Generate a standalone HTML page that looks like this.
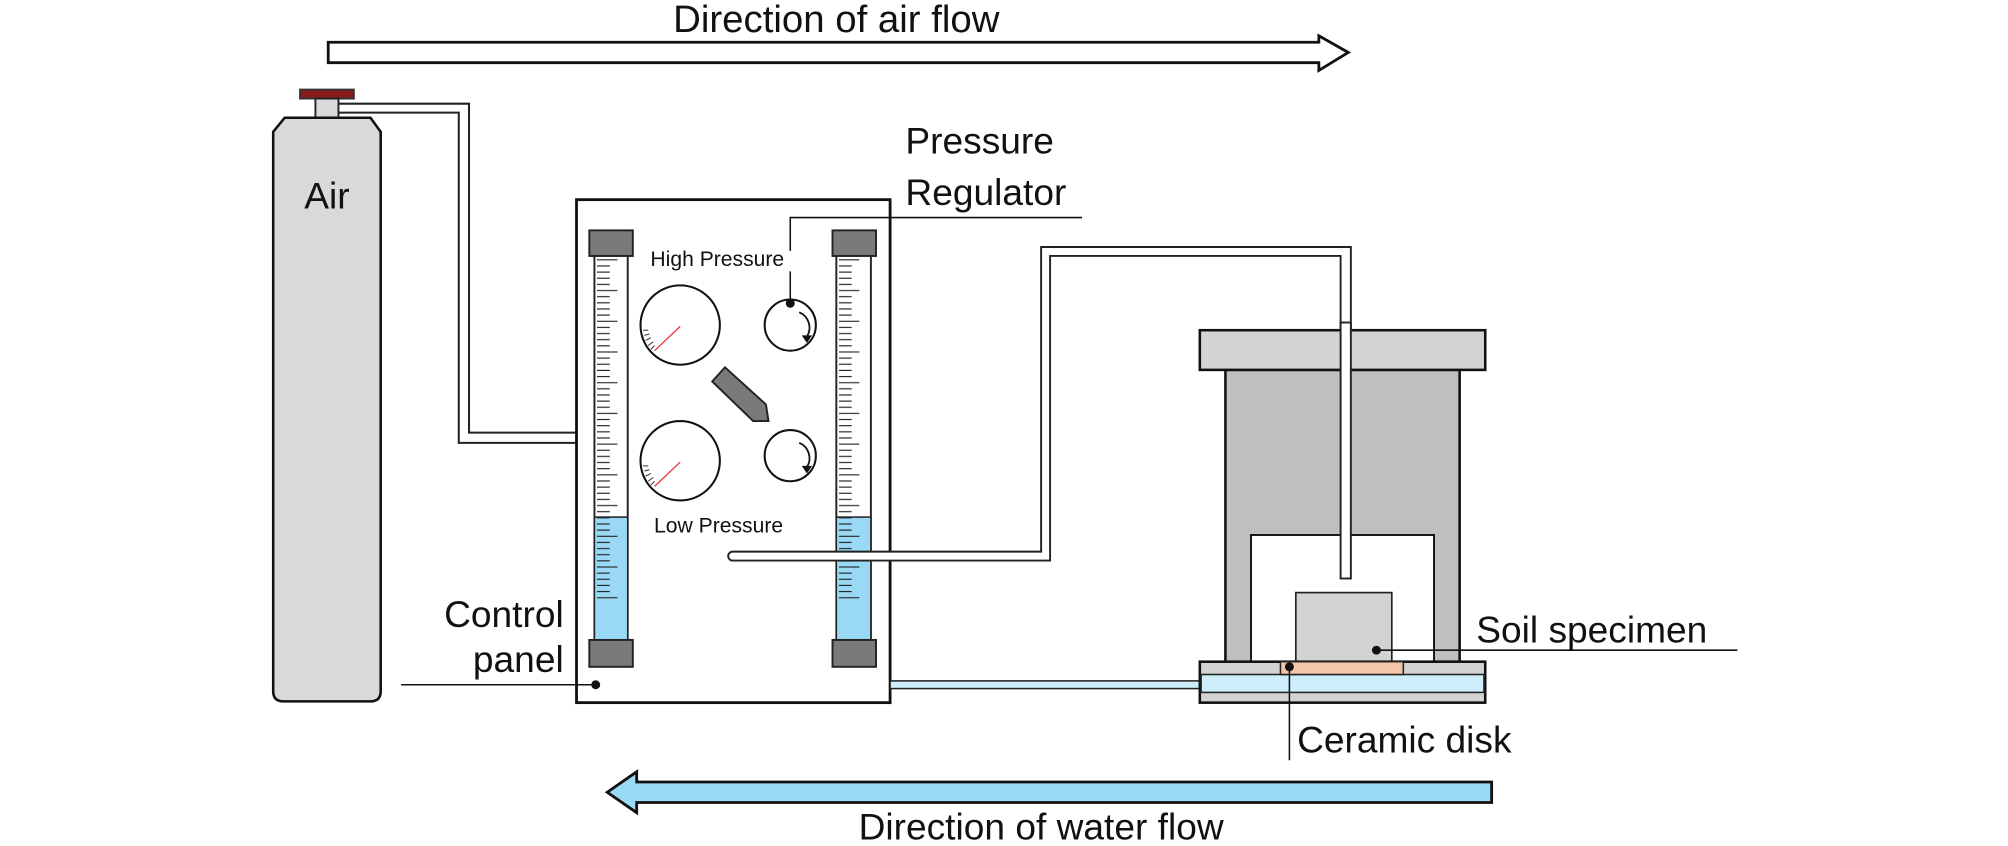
<!DOCTYPE html>
<html><head><meta charset="utf-8"><style>
html,body{margin:0;padding:0;background:#fff;}
svg{display:block;}
text{font-family:"Liberation Sans",Arial,sans-serif;fill:#111;}
</style></head><body>
<svg width="2008" height="846" viewBox="0 0 1568 661" xmlns="http://www.w3.org/2000/svg">
<defs>
<pattern id="ticksL" x="466" y="202" width="20" height="24" patternUnits="userSpaceOnUse">
<line x1="0" y1="1" x2="16" y2="1" stroke="#222" stroke-width="0.9"/>
<line x1="0" y1="5.8" x2="10" y2="5.8" stroke="#222" stroke-width="0.9"/>
<line x1="0" y1="10.6" x2="10" y2="10.6" stroke="#222" stroke-width="0.9"/>
<line x1="0" y1="15.4" x2="10" y2="15.4" stroke="#222" stroke-width="0.9"/>
<line x1="0" y1="20.2" x2="10" y2="20.2" stroke="#222" stroke-width="0.9"/>
</pattern>
<pattern id="ticksR" x="655" y="202" width="20" height="24" patternUnits="userSpaceOnUse">
<line x1="0" y1="1" x2="16" y2="1" stroke="#222" stroke-width="0.9"/>
<line x1="0" y1="5.8" x2="10" y2="5.8" stroke="#222" stroke-width="0.9"/>
<line x1="0" y1="10.6" x2="10" y2="10.6" stroke="#222" stroke-width="0.9"/>
<line x1="0" y1="15.4" x2="10" y2="15.4" stroke="#222" stroke-width="0.9"/>
<line x1="0" y1="20.2" x2="10" y2="20.2" stroke="#222" stroke-width="0.9"/>
</pattern>
</defs>

<!-- air flow arrow -->
<text x="653" y="25" font-size="30" text-anchor="middle">Direction of air flow</text>
<polygon points="256,33 1030,33 1030,28 1053,41 1030,55 1030,49 256,49" fill="#fff" stroke="#111" stroke-width="2.2"/>

<!-- air pipe -->
<polyline points="264,81 366,81 366,338 451,338" fill="none" stroke="#222" stroke-width="1.6"/>
<polyline points="264,88 358,88 358,346 451,346" fill="none" stroke="#222" stroke-width="1.6"/>

<!-- cylinder -->
<rect x="234" y="70" width="42" height="7" fill="#8b1a1a" stroke="#333" stroke-width="1.5"/>
<rect x="246" y="77" width="18" height="16" fill="#d9d9d9" stroke="#222" stroke-width="1.5"/>
<path d="M222,92 L289,92 L297,103 L297,540 Q297,548 289,548 L221,548 Q213,548 213,540 L213,103 Z" fill="#d9d9d9" stroke="#111" stroke-width="2"/>
<text x="255" y="163" font-size="29" text-anchor="middle">Air</text>

<!-- control panel -->
<rect x="450" y="156" width="245" height="393" fill="#fff" stroke="#111" stroke-width="2.2"/>
<!-- left tube -->
<rect x="464" y="199" width="26" height="301" fill="#fff" stroke="#222" stroke-width="1.5"/>
<rect x="464" y="404" width="26" height="96" fill="#9ad9f5" stroke="#222" stroke-width="1.2"/>
<rect x="466" y="202" width="18" height="266" fill="url(#ticksL)"/>
<rect x="460" y="180" width="34" height="20" fill="#7a7a7a" stroke="#222" stroke-width="1.5"/>
<rect x="460" y="500" width="34" height="21" fill="#7a7a7a" stroke="#222" stroke-width="1.5"/>
<!-- right tube -->
<rect x="653" y="199" width="27" height="301" fill="#fff" stroke="#222" stroke-width="1.5"/>
<rect x="653" y="404" width="27" height="96" fill="#9ad9f5" stroke="#222" stroke-width="1.2"/>
<rect x="655" y="202" width="18" height="266" fill="url(#ticksR)"/>
<rect x="650" y="180" width="34" height="20" fill="#7a7a7a" stroke="#222" stroke-width="1.5"/>
<rect x="650" y="500" width="34" height="21" fill="#7a7a7a" stroke="#222" stroke-width="1.5"/>

<text x="560" y="208" font-size="16.5" text-anchor="middle" fill="#1a1a2a">High Pressure</text>
<text x="561" y="416" font-size="16.5" text-anchor="middle" fill="#1a1a2a">Low Pressure</text>

<!-- gauges -->
<g stroke="#111" stroke-width="1.6" fill="#fff">
<circle cx="531" cy="254" r="31"/>
<circle cx="531" cy="360" r="31"/>
<circle cx="617" cy="254" r="20"/>
<circle cx="617" cy="356" r="20"/>
</g>
<line x1="511" y1="274" x2="531" y2="255" stroke="#e33" stroke-width="1"/>
<line x1="511" y1="380" x2="531" y2="361" stroke="#e33" stroke-width="1"/>
<g stroke="#333" stroke-width="0.8">
<line x1="502" y1="258" x2="506" y2="258"/><line x1="503" y1="262" x2="507" y2="261"/><line x1="504" y1="266" x2="508" y2="264"/><line x1="506" y1="270" x2="510" y2="267"/><line x1="508" y1="273" x2="511" y2="270"/>
<line x1="502" y1="364" x2="506" y2="364"/><line x1="503" y1="368" x2="507" y2="367"/><line x1="504" y1="372" x2="508" y2="370"/><line x1="506" y1="376" x2="510" y2="373"/><line x1="508" y1="379" x2="511" y2="376"/>
</g>
<path d="M624,244 A13,13 0 0 1 630,263" fill="none" stroke="#111" stroke-width="1.4"/>
<polygon points="626,262 634,262 630,268" fill="#111"/>
<path d="M624,346 A13,13 0 0 1 630,365" fill="none" stroke="#111" stroke-width="1.4"/>
<polygon points="626,364 634,364 630,370" fill="#111"/>
<!-- diamond pointer -->
<polygon points="566,287 598,316 600,329 588,329 556,298" fill="#7a7a7a" stroke="#222" stroke-width="1.5"/>

<!-- pressure regulator label -->
<text x="707" y="120" font-size="29">Pressure</text>
<text x="707" y="160" font-size="29">Regulator</text>
<polyline points="845,170 617,170 617,196" fill="none" stroke="#111" stroke-width="1.2"/>
<line x1="617" y1="212" x2="617" y2="237" stroke="#111" stroke-width="1.2"/>
<circle cx="617" cy="237" r="3.5" fill="#111"/>

<!-- water pipe to apparatus top -->
<path d="M572,431 L813,431 L813,193 L1055,193 L1055,452 L1047,452 L1047,200 L820,200 L820,438 L572,438 A3.5,3.5 0 0 1 572,431 Z" fill="#fff" stroke="#222" stroke-width="1.5"/>

<!-- control panel label -->
<text x="440" y="490" font-size="29" text-anchor="end">Control</text>
<text x="440" y="525" font-size="29" text-anchor="end">panel</text>
<line x1="313" y1="535" x2="465" y2="535" stroke="#111" stroke-width="1.2"/>
<circle cx="465" cy="535" r="3.5" fill="#111"/>

<!-- bottom pipe -->
<rect x="695" y="532" width="243" height="6" fill="#cdeefa" stroke="#222" stroke-width="1.2"/>

<!-- apparatus -->
<rect x="957" y="289" width="183" height="229" fill="#bfbfbf" stroke="#111" stroke-width="2"/>
<rect x="977" y="418" width="143" height="100" fill="#fff" stroke="#111" stroke-width="1.5"/>
<rect x="937" y="258" width="223" height="31" fill="#d3d3d3" stroke="#111" stroke-width="2"/>
<rect x="1047" y="252" width="8" height="200" fill="#fff" stroke="#222" stroke-width="1.5"/>
<rect x="1012" y="463" width="75" height="55" fill="#d3d3d3" stroke="#222" stroke-width="1.3"/>
<rect x="937" y="517" width="223" height="32" fill="#d3d3d3" stroke="#111" stroke-width="2"/>
<rect x="938" y="527" width="221" height="14" fill="#cdeefa" stroke="#222" stroke-width="1.2"/>
<rect x="1000" y="517" width="96" height="10" fill="#f5c6a8" stroke="#222" stroke-width="1.2"/>

<!-- soil specimen label -->
<text x="1153" y="502" font-size="29">Soil specimen</text>
<line x1="1075" y1="508" x2="1357" y2="508" stroke="#111" stroke-width="1.2"/>
<circle cx="1075" cy="508" r="3.5" fill="#111"/>
<!-- ceramic disk label -->
<line x1="1007" y1="521" x2="1007" y2="594" stroke="#111" stroke-width="1.2"/>
<circle cx="1007" cy="521" r="3.5" fill="#111"/>
<text x="1013" y="588" font-size="29">Ceramic disk</text>

<!-- water flow arrow -->
<polygon points="1165,611 497,611 497,603 474,619 497,635 497,627 1165,627" fill="#9ad9f5" stroke="#111" stroke-width="2.2"/>
<text x="813" y="656" font-size="29" text-anchor="middle">Direction of water flow</text>
</svg>
</body></html>
